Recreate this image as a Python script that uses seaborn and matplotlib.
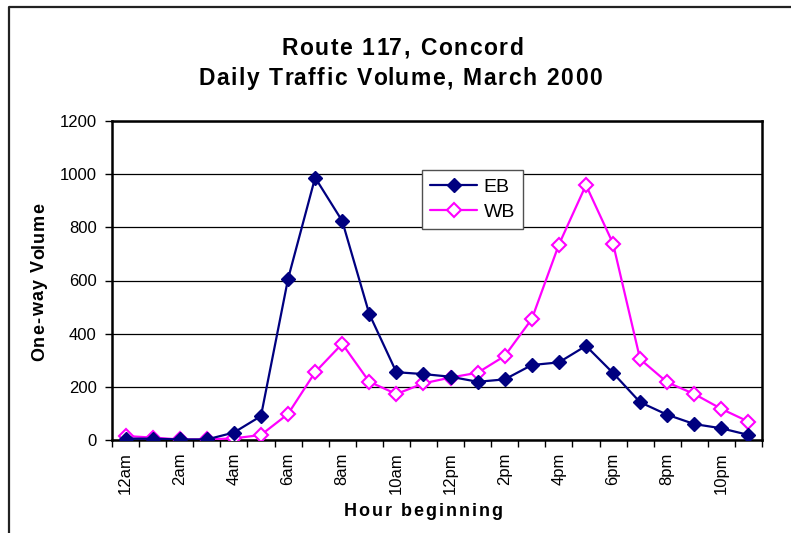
import matplotlib
matplotlib.use("Agg")
import matplotlib.pyplot as plt
from matplotlib.lines import Line2D
from matplotlib.font_manager import FontProperties
from matplotlib.ticker import FixedLocator, NullFormatter
import numpy as np
import pandas as pd
import seaborn as sns

# Hourly one-way volumes, Route 117 in Concord, March 2000
hours = ["12am", "1am", "2am", "3am", "4am", "5am", "6am", "7am", "8am", "9am",
         "10am", "11am", "12pm", "1pm", "2pm", "3pm", "4pm", "5pm", "6pm", "7pm",
         "8pm", "9pm", "10pm", "11pm"]
eb = [5, 5, 2, 2, 28, 90, 606, 987, 824, 474,
      255, 248, 238, 219, 228, 282, 292, 354, 252, 142,
      95, 60, 44, 19]
wb = [15, 9, 2, 2, 6, 19, 98, 255, 362, 219,
      173, 213, 235, 253, 316, 455, 735, 959, 739, 304,
      217, 173, 117, 69]
y_ticks = [0, 200, 400, 600, 800, 1000, 1200]

df = pd.DataFrame({"pos": np.arange(len(hours)), "hour": hours, "EB": eb, "WB": wb})

sns.set_theme(style="white")
plt.rcParams["font.family"] = ["Liberation Sans", "DejaVu Sans"]
plt.rcParams.update({"text.color": "black", "axes.labelcolor": "black",
                     "xtick.color": "black", "ytick.color": "black"})

W, H = 791, 533
fig = plt.figure(figsize=(W / 100, H / 100), dpi=100)
ax = fig.add_axes([112 / W, 1 - 440 / H, 650 / W, 319 / H])

navy = "#000080"
magenta = "#FF00FF"

sns.lineplot(data=df, x="pos", y="EB", ax=ax, color=navy, lw=1.6,
             marker="D", markersize=7, markerfacecolor=navy,
             markeredgecolor=navy, markeredgewidth=1.0, label="EB", zorder=4)
sns.lineplot(data=df, x="pos", y="WB", ax=ax, color=magenta, lw=1.6,
             marker="D", markersize=7, markerfacecolor="white",
             markeredgecolor=magenta, markeredgewidth=1.5, label="WB", zorder=3)

ax.set_xlim(-0.5, len(hours) - 0.5)
ax.set_ylim(0, 1200)

# horizontal gridlines
ax.set_yticks(y_ticks)
ax.set_yticklabels([str(v) for v in y_ticks], fontsize=12)
ax.yaxis.grid(True, color="black", lw=0.9)
ax.xaxis.grid(False)
ax.set_axisbelow(True)

# category labels on every other hour, tick marks on the category boundaries
ax.set_xticks(np.arange(0, len(hours), 2))
ax.set_xticklabels(hours[::2], rotation=90, fontsize=12)
ax.xaxis.set_minor_locator(FixedLocator(np.arange(-0.5, len(hours), 1)))
ax.xaxis.set_minor_formatter(NullFormatter())
ax.tick_params(axis="x", which="major", length=0, pad=9)
ax.tick_params(axis="x", which="minor", length=5, width=1, color="black",
               direction="out", bottom=True)
ax.tick_params(axis="y", length=5, width=1, color="black", direction="out",
               left=True, pad=6)

for side in ["left", "bottom", "top", "right"]:
    ax.spines[side].set_visible(True)
    ax.spines[side].set_color("black")
    ax.spines[side].set_linewidth(1.8)

ax.set_xlabel("")
ax.set_ylabel("")

leg = ax.legend(loc="upper left", bbox_to_anchor=(0.477, 0.846), fontsize=14,
                frameon=True, fancybox=False, edgecolor="#505050", framealpha=1,
                handlelength=2.45, handletextpad=0.32, borderpad=0.4,
                labelspacing=0.42, borderaxespad=0)
leg.get_frame().set_linewidth(1.0)


def spaced_text(s, cx, cy, size, spacing, rotation=0):
    """Bold text with extra tracking; (cx, cy) = centre of the run on its baseline, pixels from top-left."""
    renderer = fig.canvas.get_renderer()
    prop = FontProperties(family=["Liberation Sans", "DejaVu Sans"], size=size,
                          weight="bold")

    def width(t):
        return renderer.get_text_width_height_descent(t, prop, ismath=False)[0]

    ref = width("H")
    offsets = [0.0] + [width(s[:i] + "H") - ref for i in range(1, len(s))]
    total = width(s) + spacing * (len(s) - 1)
    for i, ch in enumerate(s):
        if ch == " ":
            continue
        d = -total / 2 + offsets[i] + i * spacing
        if rotation == 0:
            x, y = cx + d, cy
        else:
            x, y = cx, cy - d
        fig.text(x / W, 1 - y / H, ch, ha="left", va="baseline",
                 rotation=rotation, rotation_mode="anchor", fontproperties=prop)


spaced_text("Route 117, Concord", 402, 55, 16.5, 1.6)
spaced_text("Daily Traffic Volume, March 2000", 400, 85, 16.5, 1.6)
spaced_text("Hour beginning", 423, 516, 13, 2.0)
spaced_text("One-way Volume", 44, 282, 13, 1.1, rotation=90)

# chart-area border (left and top edges)
fig.add_artist(Line2D([9 / W, 9 / W, 1.0], [0.0, 1 - 7 / H, 1 - 7 / H],
                      transform=fig.transFigure, color="#222222", lw=1.6))

fig.savefig("out.png", dpi=100)
